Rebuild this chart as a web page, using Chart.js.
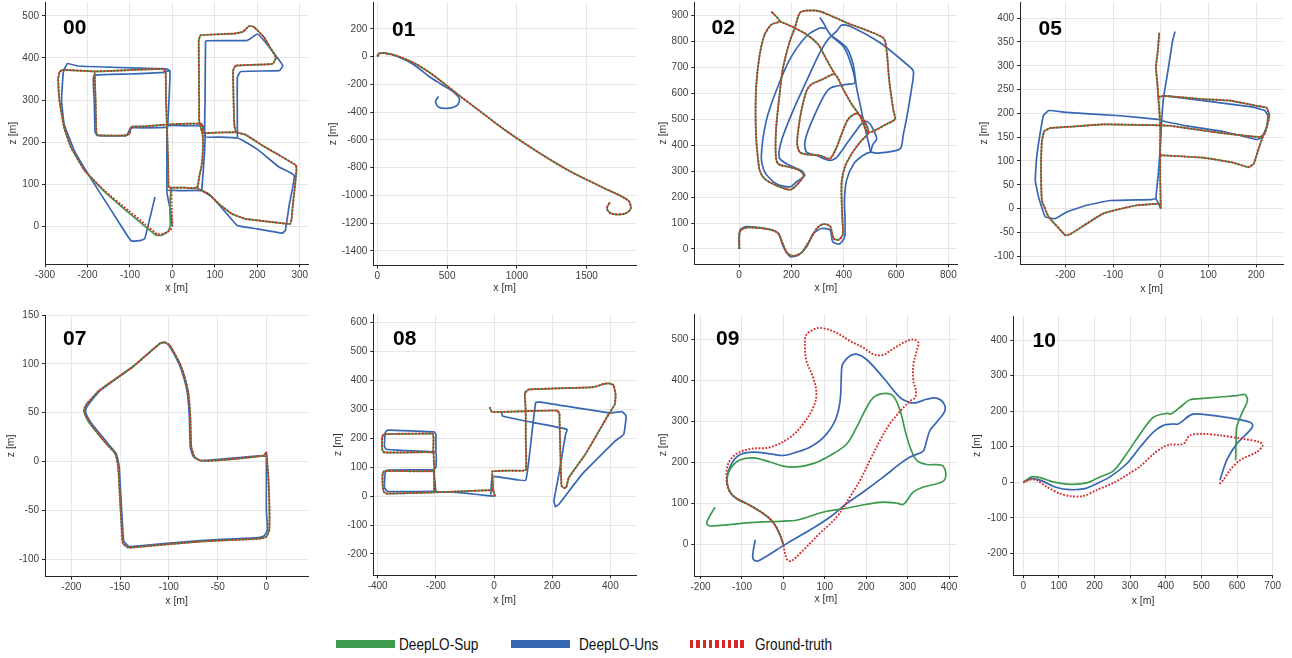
<!DOCTYPE html>
<html lang="en">
<head>
<meta charset="UTF-8" />
<title>DeepLO trajectories – KITTI sequences</title>
<script src="https://cdn.jsdelivr.net/npm/chart.js"></script>
<style>
  body { margin: 0; width: 1292px; height: 658px; position: relative; overflow: hidden; background: #fff; font-family: 'Liberation Sans', Arial, sans-serif; }
  canvas { position: absolute; }
  .tag { position: absolute; font-size: 21px; line-height: 21px; font-weight: bold; color: #000; }
  .key { position: absolute; top: 640px; width: 59px; height: 8px; }
  .keytxt { position: absolute; top: 636.5px; font-size: 16px; line-height: 16px; color: #111; white-space: nowrap; transform: scaleX(0.85); transform-origin: left center; }
</style>
</head>
<body>
  <!-- legend -->
  <div class="key" style="left:336px;background:#3e9a4c"></div>
  <div class="keytxt" style="left:399px">DeepLO-Sup</div>
  <div class="key" style="left:511px;background:#3767b3"></div>
  <div class="keytxt" style="left:579px">DeepLO-Uns</div>
  <div class="key" style="left:690px;width:57px;background:repeating-linear-gradient(90deg,#d42a2a 0 3.4px,transparent 3.4px 6.3px)"></div>
  <div class="keytxt" style="left:755px">Ground-truth</div>

<script>
// trajectories, [x, z] in metres, one inner list per drawn stroke

// --- 00 ---
const gt00 = [
  [[-3,92],[-2,50],[0,1],[-5,-9],[-20,-17],[-35,-19],[-65,6],[-104,38],[-160,85],[-207,133],[-239,188],[-255,235],[-266,299],[-269,350],[-266,366],[-259,372],[-183,368],[-21,374],[-16,366],[-15,300],[-13,242],[-10,150],[-9,93],[-3,92],[30,92],[55,91],[60,96],[63,117],[68,140],[71,164],[72,200],[71,221],[70,243],[40,244],[-13,242],[-60,238],[-95,237],[-98,234],[-100,222],[-108,216],[-175,216],[-179,222],[-181,300],[-183,361],[-183,368]],
  [[58,91],[85,77],[109,54],[140,30],[172,18],[220,12],[277,6],[281,20],[283,46],[288,90],[292,133],[291,145],[250,170],[212,192],[172,218],[150,224],[146,240],[144,300],[143,370],[149,382],[236,386],[244,401],[230,425],[216,449],[192,474],[181,476],[165,462],[145,458],[66,454],[62,440],[63,300],[63,250],[66,238],[71,222],[110,223],[150,224]]
];
const sup00 = [
  [[-3,92],[-6,50],[-5,2],[-10,-12],[-25,-21],[-38,-21],[-68,3],[-106,35],[-161,84],[-207,133],[-239,188],[-255,235],[-266,299],[-269,350],[-266,366],[-259,372],[-183,368],[-21,374],[-16,366],[-15,300],[-13,242],[-10,150],[-9,93],[-3,92],[30,92],[55,91],[60,96],[63,117],[68,140],[71,164],[72,200],[71,221],[70,243],[40,244],[-13,242],[-60,238],[-95,237],[-98,234],[-100,222],[-108,216],[-175,216],[-179,222],[-181,300],[-183,361],[-183,368]],
  [[58,91],[85,77],[109,54],[140,30],[172,18],[220,12],[277,6],[281,20],[283,46],[288,90],[292,133],[291,145],[250,170],[212,192],[172,218],[150,224],[146,240],[144,300],[143,370],[149,382],[236,386],[244,401],[230,425],[216,449],[192,474],[181,476],[165,462],[145,458],[66,454],[62,440],[63,300],[63,250],[66,238],[71,222],[110,223],[150,224]]
];
const uns00 = [
  [[0,0],[-5,40],[-13,85],[20,85],[69,85],[93,70],[123,36],[153,2],[200,-6],[259,-16],[266,-9],[275,50],[287,121],[251,141],[204,180],[164,205],[153,210],[110,212],[77,213],[77,300],[78,439],[82,441],[177,442],[200,457],[216,441],[240,410],[260,382],[252,370],[161,368],[153,354],[153,228],[153,210]],
  [[69,85],[74,150],[77,213],[72,238],[30,239],[-11,238],[-13,160],[-13,93],[-13,85]],
  [[-11,238],[-17,235],[-60,234],[-98,234],[-108,216],[-177,216],[-182,224],[-184,300],[-185,358],[-100,362],[-21,366],[-6,370],[-7,323],[-11,238]],
  [[-6,370],[-13,374],[-144,378],[-223,381],[-247,387],[-256,370],[-258,354],[-261,299],[-255,243],[-231,180],[-199,125],[-144,38],[-104,-25],[-95,-35],[-73,-33],[-65,-29],[-41,70]]
];

// --- 01 ---
const gt01 = [
  [[0,0],[14,22],[55,24],[137,5],[256,-43],[374,-115],[469,-187],[588,-282],[730,-390],[919,-533],[1133,-677],[1370,-821],[1607,-940],[1796,-1036],[1815,-1096],[1773,-1132],[1678,-1132],[1645,-1096],[1666,-1048]]
];
const sup01 = gt01; // indistinguishable from the ground truth in this sequence
const uns01 = [
  [[0,0],[14,22],[55,24],[137,5],[256,-55],[374,-146],[457,-199],[540,-251],[588,-306],[569,-354],[505,-373],[441,-366],[417,-325],[438,-287]]
];

// --- 02 ---
const gt02 = [
  [[1,0],[1,60],[10,75],[36,83],[118,75],[150,60],[169,15],[185,-17],[208,-27],[239,-14],[271,35],[297,79],[322,96],[348,88],[361,41],[380,35],[396,54],[395,111],[392,188],[392,258],[404,315],[430,366],[462,411],[494,449],
   [475,500],[449,522],[417,500],[392,443],[373,392],[347,347],[309,360],[258,364],[232,373],[222,405],[226,456],[238,532],[258,609],[277,634],[321,654],[366,673],
   [398,615],[430,558],[462,513],[494,449],
   [564,481],[596,500],[590,532],[574,647],[564,762],[551,813],[411,871],[309,915],[258,918],[232,909],[213,851],[194,800],[168,698],[155,596],[142,468],[140,366],[149,328],[194,315],[232,302],[247,283],[219,245],[194,228],[142,245],[98,270],[79,302],[72,353],[66,417],[63,519],[66,634],[79,749],[98,826],[123,864],[155,877],[123,915]],
  [[155,877],[213,851],[258,826],[302,788],[334,730],[366,673]]
];
const sup02 = gt02;
const uns02 = [
  [[1,0],[4,73],[29,86],[118,75],[150,60],[169,9],[195,-29],[227,-23],[259,9],[284,60],[316,79],[348,73],[358,28],[383,19],[403,45],[405,111],[403,188],[411,265],[439,329],[475,361],[503,373],
   [526,369],[615,385],[628,443],[641,507],[660,622],[666,685],[641,711],[539,794],[424,858],[392,862],[373,839],[337,803],[302,743],[258,647],[206,532],[162,417],[153,353],[181,328],[238,302],[251,283],[219,258],[194,239],[142,251],[98,296],[85,353],[104,494],[142,609],[194,730],[258,820],[309,851],[332,851],[309,892]],
  [[332,851],[353,820],[398,781],[424,724],[443,641],[411,634],[353,622],[328,596],[296,532],[264,456],[251,405],[258,373],[296,360],[347,341],[373,353],[411,405],[443,449],[465,479],[488,491],[507,471],[526,424],[511,402],[503,373]],
  [[353,820],[373,807],[411,775],[436,711],[449,622],[465,545],[481,468],[503,373]]
];

// --- 05 ---
const gt05 = [
  [[0,0],[0,10],[-1,60],[-1,112],[-1,175],[-5,234],[-7,262],[-10,297],[-6,332],[-3,370]],
  [[-5,234],[6,237],[89,230],[145,227],[201,216],[222,212],[228,195],[218,157],[208,150],[110,161],[20,174],[-1,175]],
  [[-1,112],[2,112],[89,107],[150,97],[184,87],[195,94],[205,125],[215,154]],
  [[-1,175],[-120,177],[-190,172],[-232,169],[-244,163],[-249,143],[-251,87],[-249,17],[-235,-17],[-200,-56],[-190,-54],[-120,-10],[-50,7],[-8,10],[0,10]]
];
const sup05 = gt05;
const uns05 = [
  [[0,0],[-5,12],[-10,21],[-5,73],[-1,129],[2,185],[6,234],[13,276],[20,321],[25,353],[30,372]],
  [[-10,21],[-19,19],[-106,17],[-155,7],[-197,-7],[-221,-21],[-242,-17],[-256,24],[-263,59],[-260,108],[-253,157],[-246,195],[-235,206],[-197,202],[-85,195],[-1,187]],
  [[0,185],[47,175],[131,162],[202,145],[212,150],[222,171],[225,195],[218,206],[194,213],[89,227],[6,237]]
];

// --- 07 ---
const gt07 = [
  [[0,10],[2,-16],[3,-40],[3,-70],[0,-77],[-7,-79],[-68,-82],[-137,-88],[-142,-88],[-147,-84],[-148,-74],[-150,-40],[-152,-5],[-155,8],[-164,18],[-181,39],[-186,48],[-187,53],[-184,59],[-171,73],[-137,97],[-109,121],[-104,122],[-99,119],[-89,101],[-84,87],[-80,70],[-78,46],[-77,15],[-74,5],[-68,1],[-51,1],[-3,6],[0,9]]
];
const sup07 = gt07;
const uns07 = [
  [[0,6],[0,-20],[0,-50],[1,-70],[-2,-76],[-8,-78],[-68,-81],[-136,-87],[-141,-87],[-146,-82],[-147,-74],[-149,-40],[-151,-5],[-154,8],[-163,19],[-180,40],[-185,49],[-185,54],[-182,59],[-170,73],[-137,97],[-109,121],[-104,122],[-100,119],[-90,101],[-85,87],[-81,70],[-79,46],[-78,15],[-75,5],[-68,1],[-51,2],[-3,6],[-1,5]]
];

// --- 08 ---
const gt08 = [
  [[-15,308],[-8,292],[20,291],[60,292],[109,294],[150,295],[217,296],[225,285],[225,271],[228,150],[232,36],[240,28],[248,30],[257,64],[314,145],[394,283],[415,317],[418,350],[411,384],[395,390],[377,388],[343,377],[120,369],[106,357],[109,294],[109,200],[109,90],[50,88],[-6,85],[-4,50],[-3,21],[4,-2]],
  [[-3,21],[-100,17],[-206,13],[-300,10],[-370,9],[-379,15],[-383,40],[-383,76],[-378,86],[-350,87],[-206,87],[-207,120],[-209,151],[-300,151],[-378,151],[-384,160],[-385,202],[-380,213],[-350,215],[-211,216],[-208,200],[-209,151]],
  [[-206,87],[-206,50],[-206,13]]
];
const sup08 = gt08;
const uns08 = [
  [[-11,5],[-6,67],[50,61],[109,55],[131,225],[143,323],[154,326],[394,288],[440,292],[454,277],[446,214],[417,191],[303,76],[223,-28],[211,-37],[206,-16],[223,76],[246,214],[251,231],[137,254],[29,277],[26,294]],
  [[0,0],[-15,1],[-100,10],[-200,16],[-366,16],[-377,30],[-374,82],[-366,90],[-209,91],[-200,99],[-200,151],[-300,157],[-371,162],[-377,173],[-374,219],[-366,228],[-206,222],[-200,214],[-200,151]],
  [[-209,91],[-203,50],[-200,16]]
];

// --- 09 ---
const gt09 = [
  [[0,0],[-8,23],[-24,53],[-48,75],[-80,95],[-113,112],[-129,128],[-137,156],[-133,197],[-113,221],[-80,233],[-32,237],[16,261],[48,294],[72,334],[80,367],[72,407],[56,447],[52,488],[56,512],[80,527],[97,527],[129,516],[161,496],[193,480],[217,464],[241,462],[257,472],[290,492],[314,500],[326,492],[322,472],[314,439],[314,399],[320,375],[318,358],[306,350],[290,334],[257,294],[233,253],[209,205],[185,156],[161,116],[129,67],[88,27],[48,-14],[20,-40],[10,-38],[4,-22],[0,0]]
];
const sup09 = [
  [[0,0],[-8,23],[-24,53],[-48,75],[-80,95],[-113,112],[-129,128],[-136,160],[-125,189],[-105,206],[-72,211],[-32,201],[0,191],[32,189],[72,197],[113,217],[153,245],[177,286],[197,326],[217,358],[241,368],[265,362],[282,326],[294,278],[306,237],[322,205],[346,195],[382,193],[392,176],[388,156],[370,148],[338,140],[314,128],[290,98],[273,101],[241,103],[201,98],[145,87],[97,79],[32,59],[0,57],[-80,53],[-177,45],[-185,53],[-165,91]]
];
const uns09 = [
  [[0,0],[-8,23],[-24,53],[-48,75],[-80,95],[-113,112],[-129,128],[-136,160],[-125,197],[-105,219],[-72,225],[-32,221],[0,217],[32,225],[64,237],[97,261],[125,302],[137,350],[141,431],[145,443],[161,460],[177,464],[201,451],[241,407],[282,358],[306,346],[322,346],[346,354],[370,357],[386,346],[390,326],[370,298],[354,278],[346,253],[339,229],[334,225],[306,213],[282,197],[241,164],[193,128],[153,100],[113,67],[64,35],[8,2],[-56,-38],[-68,-40],[-74,-30],[-68,11]]
];

// --- 10 ---
const gt10 = [
  [[0,0],[19,7],[37,6],[66,-13],[103,-32],[131,-39],[168,-39],[206,-22],[253,-2],[290,20],[328,45],[365,79],[393,99],[412,106],[449,108],[468,132],[505,136],[552,132],[618,122],[664,113],[672,104],[655,85],[608,62],[580,34],[561,6],[547,-8]]
];
const sup10 = [
  [[0,0],[23,15],[47,13],[84,1],[131,-6],[178,-2],[215,15],[253,32],[290,80],[328,136],[365,183],[402,194],[416,193],[440,211],[468,232],[505,236],[599,244],[622,247],[629,230],[613,193],[599,155],[597,108],[596,62]]
];
const uns10 = [
  [[0,0],[23,10],[47,6],[94,-15],[131,-21],[173,-18],[206,-4],[243,15],[290,52],[328,99],[365,141],[393,160],[421,164],[435,164],[473,191],[505,191],[580,181],[636,169],[644,160],[636,146],[599,108],[571,62],[552,6]]
];

// tick values per panel
const xTicks00 = [-300,-200,-100,0,100,200,300], yTicks00 = [0,100,200,300,400,500];
const xTicks01 = [0,500,1000,1500], yTicks01 = [-1400,-1200,-1000,-800,-600,-400,-200,0,200];
const xTicks02 = [0,200,400,600,800], yTicks02 = [0,100,200,300,400,500,600,700,800,900];
const xTicks05 = [-200,-100,0,100,200], yTicks05 = [-100,-50,0,50,100,150,200,250,300,350,400];
const xTicks07 = [-200,-150,-100,-50,0], yTicks07 = [-100,-50,0,50,100,150];
const xTicks08 = [-400,-200,0,200,400], yTicks08 = [-200,-100,0,100,200,300,400,500,600];
const xTicks09 = [-200,-100,0,100,200,300,400], yTicks09 = [0,100,200,300,400,500];
const xTicks10 = [0,100,200,300,400,500,600,700], yTicks10 = [-200,-100,0,100,200,300,400];

const GREEN = '#3e9a4c', BLUE = '#3767b3', RED = '#d42a2a';
Chart.defaults.font.family = "'Liberation Sans', Arial, Helvetica, sans-serif";

// box = plot area [left, top, right, bottom] on the page; yt / xt = axis title centres
const panels = [
  { tag: '00', gt: gt00, sup: sup00, uns: uns00, xLim: [-300, 320], yLim: [-90, 533], xT: xTicks00, yT: yTicks00, box: [45, 1, 308.3, 264.3], yt: 13.3, xt: 288, at: [63, 16.3], tension: 0.1 },
  { tag: '01', gt: gt01, sup: sup01, uns: uns01, xLim: [-29, 1853], yLim: [-1507, 393], xT: xTicks01, yT: yTicks01, box: [373.3, 1, 636, 265.7], yt: 333.3, xt: 288, at: [392, 18], tension: 0.3 },
  { tag: '02', gt: gt02, sup: sup02, uns: uns02, xLim: [-171, 834], yLim: [-59, 951], xT: xTicks02, yT: yTicks02, box: [694.3, 1, 957.3, 264.3], yt: 663.3, xt: 288, at: [711.5, 15.6], tension: 0.25 },
  { tag: '05', gt: gt05, sup: sup05, uns: uns05, xLim: [-295, 257], yLim: [-117, 434], xT: xTicks05, yT: yTicks05, box: [1020, 1, 1283.3, 264.3], yt: 984, xt: 289, at: [1038.5, 16.6], tension: 0.1 },
  { tag: '07', gt: gt07, sup: sup07, uns: uns07, xLim: [-227, 43], yLim: [-118, 150], xT: xTicks07, yT: yTicks07, box: [45, 314, 308.3, 576.7], yt: 11.7, xt: 601, at: [63, 327.3], tension: 0.15 },
  { tag: '08', gt: gt08, sup: sup08, uns: uns08, xLim: [-415, 488], yLim: [-274, 630], xT: xTicks08, yT: yTicks08, box: [373.3, 312.7, 636, 575.3], yt: 338.3, xt: 600, at: [393, 327.3], tension: 0.1 },
  { tag: '09', gt: gt09, sup: sup09, uns: uns09, xLim: [-215, 420], yLim: [-77, 562], xT: xTicks09, yT: yTicks09, box: [694.3, 312.7, 957.3, 576], yt: 663.3, xt: 599, at: [716, 327.3], tension: 0.35 },
  { tag: '10', gt: gt10, sup: sup10, uns: uns10, xLim: [-28, 700], yLim: [-262, 468], xT: xTicks10, yT: yTicks10, box: [1013.3, 315, 1272.7, 575.3], yt: 977.3, xt: 601, at: [1032.5, 329], tension: 0.3 }
];

function stroke(seg, color, dotted, tension) {
  return {
    data: seg.map(p => ({ x: p[0], y: p[1] })),
    showLine: true,
    borderColor: color,
    borderWidth: dotted ? 1.9 : 1.7,
    borderDash: dotted ? [1.8, 1.6] : [],
    pointRadius: 0,
    tension: tension,
    fill: false
  };
}

function axis(lim, ticks, title, sizeKey, size) {
  return {
    type: 'linear',
    min: lim[0], max: lim[1],
    afterBuildTicks: s => { s.ticks = ticks.map(v => ({ value: v })); },
    afterFit: s => { s[sizeKey] = size; },
    ticks: {
      color: '#404040', font: { size: 10 }, padding: sizeKey === 'height' ? 2 : 3,
      autoSkip: false, maxRotation: 0, includeBounds: false,
      callback: v => String(v)
    },
    grid: { color: '#e6e6e6', lineWidth: 1, tickColor: '#262626', tickLength: 3 },
    border: { color: '#262626', width: 1 },
    title: { display: true, text: title, color: '#333', font: { size: 10.5 }, padding: { top: 4, bottom: 4 } }
  };
}

panels.forEach(p => {
  const [pl, pt, pr, pb] = p.box;
  const cl = Math.round(p.yt - 10.3), ct = Math.round(pt - 8);
  const cw = Math.ceil(pr - cl + 12), ch = Math.round(p.xt + 10.3 - ct);
  const padR = cw - (pr - cl), padT = pt - ct;
  const yW = pl - cl, xH = ch - (pb - ct);

  const cv = document.createElement('canvas');
  cv.width = cw; cv.height = ch;
  cv.style.left = cl + 'px'; cv.style.top = ct + 'px';
  cv.style.width = cw + 'px'; cv.style.height = ch + 'px';
  document.body.appendChild(cv);

  // ground truth on top, then Sup, then Uns underneath
  const datasets = [];
  p.gt.forEach(s => datasets.push(stroke(s, RED, true, p.tension)));
  p.sup.forEach(s => datasets.push(stroke(s, GREEN, false, p.tension)));
  p.uns.forEach(s => datasets.push(stroke(s, BLUE, false, p.tension)));

  new Chart(cv, {
    type: 'scatter',
    data: { datasets },
    options: {
      responsive: false, animation: false, devicePixelRatio: 1, events: [],
      layout: { padding: { left: 0, bottom: 0, top: padT, right: padR } },
      plugins: { legend: { display: false }, tooltip: { enabled: false } },
      scales: {
        x: axis(p.xLim, p.xT, 'x [m]', 'height', xH),
        y: axis(p.yLim, p.yT, 'z [m]', 'width', yW)
      }
    }
  });

  const t = document.createElement('div');
  t.className = 'tag';
  t.textContent = p.tag;
  t.style.left = p.at[0] + 'px';
  t.style.top = p.at[1] + 'px';
  document.body.appendChild(t);
});
</script>
</body>
</html>
